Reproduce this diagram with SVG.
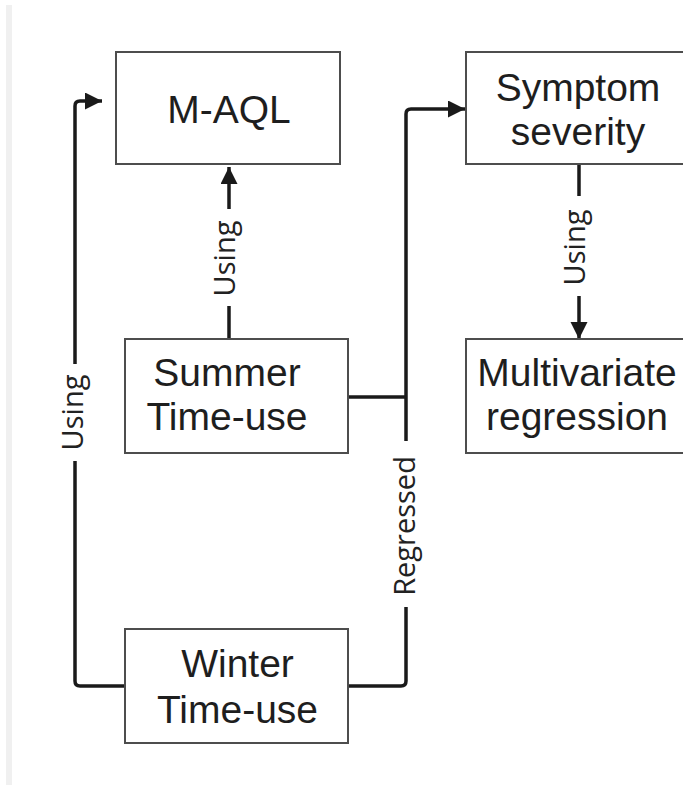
<svg xmlns="http://www.w3.org/2000/svg" width="683" height="785" viewBox="0 0 683 785">
<style>
.box{fill:#fff;stroke:#4d4d4d;stroke-width:2}
.nt{font-family:"Liberation Sans",Arial,sans-serif;font-size:39px;fill:#1e1e1e;text-anchor:middle}
.lt{font-family:"Open Sans","Noto Sans",sans-serif;font-size:29px;fill:#222;text-anchor:middle}
.con{fill:none;stroke:#1a1a1a;stroke-width:3.5;stroke-linejoin:round}
.bg{fill:#fff}
</style>
<defs>
<marker id="arr" markerUnits="userSpaceOnUse" markerWidth="18" markerHeight="18" refX="17" refY="8.5" orient="auto">
<path d="M0,0 L17,8.5 L0,17 Z" fill="#1a1a1a"/>
</marker>
</defs>
<rect x="6" y="5" width="6" height="780" fill="#f0f0f0"/>
<g id="connectors">
<path class="con" d="M125,686 H80 Q75,686 75,681 V106 Q75,101 80,101 H102" marker-end="url(#arr)"/>
<path class="con" d="M229,339 V167" marker-end="url(#arr)"/>
<path class="con" d="M348,686 H401 Q406,686 406,681 V114 Q406,109 411,109 H465" marker-end="url(#arr)"/>
<path class="con" d="M348,397 H406"/>
<path class="con" d="M579,164 V339" marker-end="url(#arr)"/>
<rect class="bg" x="58" y="364" width="34" height="97"/>
<rect class="bg" x="212" y="209" width="34" height="97"/>
<rect class="bg" x="562" y="196" width="34" height="100"/>
<rect class="bg" x="389" y="441" width="34" height="166"/>
<text class="lt" transform="translate(83,412.5) rotate(-90)">Using</text>
<text class="lt" transform="translate(235,258.5) rotate(-90)">Using</text>
<text class="lt" transform="translate(585,247.5) rotate(-90)">Using</text>
<text class="lt" transform="translate(415,526) rotate(-90)">Regressed</text>
</g>
<g id="maql">
<rect class="box" x="116" y="52" width="224" height="112"/>
<text class="nt" x="229" y="123">M-AQL</text>
</g>
<g id="symptom">
<rect class="box" x="466" y="52" width="224" height="112"/>
<text class="nt" x="578" y="101">Symptom</text>
<text class="nt" x="578" y="145">severity</text>
</g>
<g id="summer">
<rect class="box" x="125" y="339" width="223" height="114"/>
<text class="nt" x="227" y="386">Summer</text>
<text class="nt" x="227" y="430">Time-use</text>
</g>
<g id="multivariate">
<rect class="box" x="466" y="339" width="224" height="114"/>
<text class="nt" x="577" y="386">Multivariate</text>
<text class="nt" x="577" y="430">regression</text>
</g>
<g id="winter">
<rect class="box" x="125" y="629" width="223" height="114"/>
<text class="nt" x="237.5" y="677">Winter</text>
<text class="nt" x="237.5" y="723">Time-use</text>
</g>
</svg>
